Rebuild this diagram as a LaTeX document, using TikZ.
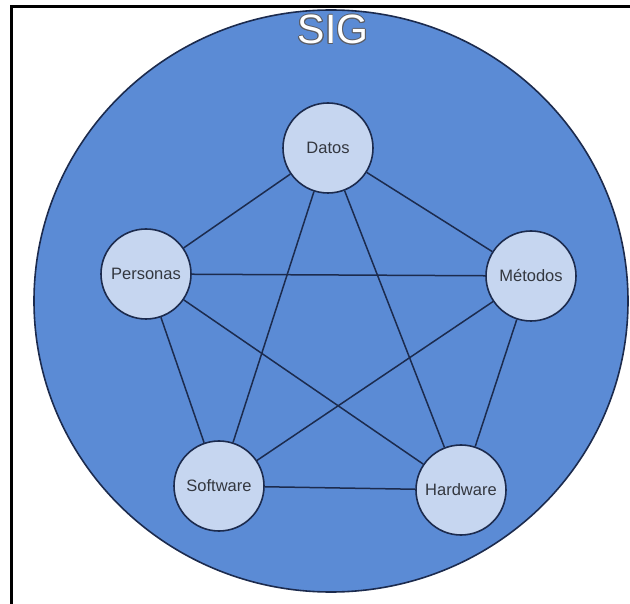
\documentclass[tikz,border=0pt]{standalone}
\usepackage{fontspec}
\setmainfont{Liberation Sans}
\usepackage{contour}
\contourlength{0.8pt}
\contournumber{12}
\definecolor{bigblue}{HTML}{5B8BD5}
\definecolor{smallblue}{HTML}{C6D6F0}
\definecolor{edgeblue}{HTML}{1C2B4E}
\definecolor{txtgray}{HTML}{33373F}
\definecolor{sigedge}{HTML}{5A5E68}
\tikzset{
  comp/.style={circle, draw=edgeblue, line width=1.6pt, fill=smallblue,
    minimum size=90pt, inner sep=0pt, text=txtgray,
    font=\fontsize{16.5}{18}\selectfont},
  link/.style={draw=edgeblue, line width=1.5pt}
}
\begin{document}
\begin{tikzpicture}[x=1pt,y=-1pt]
\useasboundingbox (0,0) rectangle (630,604);
\fill[white] (0,0) rectangle (630,604);
% frame (left and top lines)
\draw[black, line width=3pt] (11,604) -- (11,7) -- (630,7);
% big circle
\begin{scope}
\clip (12.5,8.5) rectangle (630,604);
\draw[edgeblue, line width=1.6pt, fill=bigblue] (331,301) ellipse [x radius=297, y radius=291];
\end{scope}
\node (sig) at (333,30) {\fontsize{41}{44}\selectfont\contour{sigedge}{\textcolor{white}{SIG}}};
% components
\node[comp] (dat) at (328,148) {Datos};
\node[comp] (per) at (146,274) {Personas};
\node[comp] (met) at (531,276) {Métodos};
\node[comp] (sof) at (219,486) {Software};
\node[comp] (har) at (461,490) {Hardware};
% connectors
\path[link] (dat) -- (per);
\path[link] (dat) -- (met);
\path[link] (dat) -- (sof);
\path[link] (dat) -- (har);
\path[link] (per) -- (met);
\path[link] (per) -- (sof);
\path[link] (per) -- (har);
\path[link] (met) -- (sof);
\path[link] (met) -- (har);
\path[link] (sof) -- (har);
\end{tikzpicture}
\end{document}
